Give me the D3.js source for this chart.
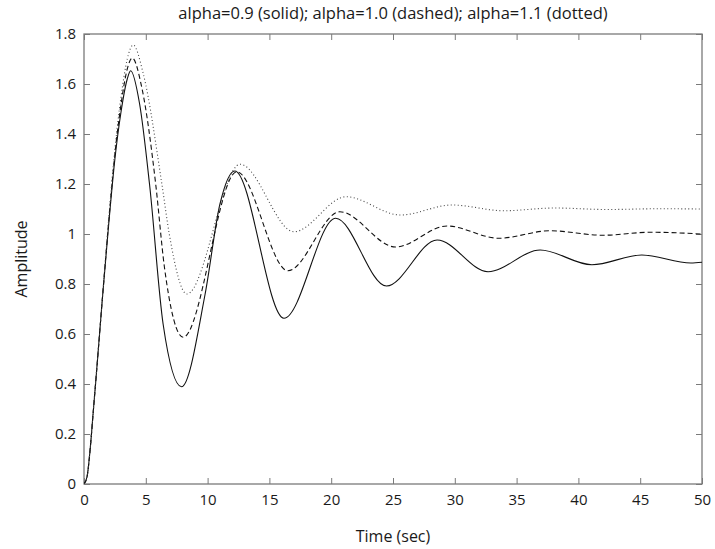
<!DOCTYPE html>
<html>
<head>
<meta charset="utf-8">
<script src="https://cdn.jsdelivr.net/npm/d3@7"></script>
<style>
  html, body { margin: 0; padding: 0; background: #fff; }
  svg { display: block; }
  text { font-family: "Open Sans", Lato, sans-serif; fill: #1a1a1a; }
</style>
</head>
<body>
<svg id="chart" width="715" height="549"></svg>
<script>
// ---- data ----
const xTicks = [0, 5, 10, 15, 20, 25, 30, 35, 40, 45, 50];
const yTicks = [0, 0.2, 0.4, 0.6, 0.8, 1, 1.2, 1.4, 1.6, 1.8];

// alpha = 0.9 (solid)
const timeSolid = [0, 0.25, 0.5, 0.75, 1.0, 1.5, 2.0, 2.5, 3.0, 3.5, 3.77, 4.5, 5.3, 6.4, 7.89, 9.8, 11.0, 12.2, 16.18, 20.36, 24.47, 28.57, 32.69, 36.91, 41.09, 45.13, 49.1, 50];
const ampSolid  = [0, 0.03, 0.14, 0.29, 0.44, 0.75, 1.04, 1.30, 1.49, 1.62, 1.653, 1.52, 1.20, 0.64, 0.389, 0.76, 1.12, 1.252, 0.663, 1.063, 0.792, 0.976, 0.849, 0.936, 0.877, 0.916, 0.884, 0.887];

// alpha = 1.0 (dashed)
const timeDashed = [0, 0.25, 0.5, 0.75, 1.0, 1.5, 2.0, 2.5, 3.0, 3.5, 3.9, 4.7, 5.8, 6.5, 8.02, 12.36, 16.5, 20.7, 25.2, 29.37, 33.55, 37.7, 42.0, 45.8, 50];
const ampDashed  = [0, 0.03, 0.14, 0.29, 0.44, 0.75, 1.05, 1.32, 1.52, 1.66, 1.704, 1.58, 1.20, 0.87, 0.587, 1.249, 0.853, 1.089, 0.948, 1.032, 0.983, 1.013, 0.995, 1.007, 1.0];

// alpha = 1.1 (dotted)
const timeDotted = [0, 0.25, 0.5, 0.75, 1.0, 1.5, 2.0, 2.5, 3.0, 3.5, 3.98, 4.8, 6.3, 6.9, 8.32, 12.63, 16.99, 21.2, 25.6, 29.78, 33.95, 38.1, 42.3, 46.5, 50];
const ampDotted  = [0, 0.03, 0.14, 0.29, 0.44, 0.75, 1.06, 1.34, 1.55, 1.70, 1.756, 1.64, 1.20, 1.00, 0.76, 1.279, 1.009, 1.149, 1.076, 1.116, 1.093, 1.104, 1.098, 1.101, 1.100];

const titleText = "alpha=0.9 (solid); alpha=1.0 (dashed); alpha=1.1 (dotted)";
const xLabel = "Time (sec)";
const yLabel = "Amplitude";

// ---- layout ----
const svg = d3.select("#chart");
const pLeft = 84, pRight = 702, pTop = 34, pBottom = 484;
const x = d3.scaleLinear().domain([0, 50]).range([pLeft, pRight]);
const y = d3.scaleLinear().domain([0, 1.8]).range([pBottom, pTop]);
const axisColor = "#7a7a7a";
const tickLen = 6;

svg.append("defs").append("clipPath").attr("id", "clip")
  .append("rect").attr("x", pLeft).attr("y", pTop).attr("width", pRight - pLeft).attr("height", pBottom - pTop);

// axes (ticks inside, on all four sides)
function styleAxis(g) {
  g.select(".domain").remove();
  g.selectAll(".tick line").attr("stroke", axisColor);
  g.selectAll(".tick text").attr("fill", "#1a1a1a").style("font-size", "15px");
}
svg.append("g").attr("transform", `translate(0,${pBottom})`)
  .call(d3.axisBottom(x).tickValues(xTicks).tickSize(-tickLen).tickPadding(10).tickFormat(d3.format("~g")))
  .call(styleAxis);
svg.append("g").attr("transform", `translate(0,${pTop})`)
  .call(d3.axisTop(x).tickValues(xTicks).tickSize(-tickLen).tickFormat(""))
  .call(styleAxis);
svg.append("g").attr("transform", `translate(${pLeft},0)`)
  .call(d3.axisLeft(y).tickValues(yTicks).tickSize(-tickLen).tickPadding(8).tickFormat(d3.format("~g")))
  .call(styleAxis);
svg.append("g").attr("transform", `translate(${pRight},0)`)
  .call(d3.axisRight(y).tickValues(yTicks).tickSize(-tickLen).tickFormat(""))
  .call(styleAxis);

svg.append("rect").attr("x", pLeft).attr("y", pTop)
  .attr("width", pRight - pLeft).attr("height", pBottom - pTop)
  .attr("fill", "none").attr("stroke", axisColor).attr("stroke-width", 1.3);

// lines
const line = d3.line().x(d => x(d[0])).y(d => y(d[1])).curve(d3.curveMonotoneX);
const series = [
  { t: timeSolid, v: ampSolid, dash: null, color: "#111" },
  { t: timeDashed, v: ampDashed, dash: "5,3", color: "#111" },
  { t: timeDotted, v: ampDotted, dash: "1,2.5", color: "#444" }
];
const gLines = svg.append("g").attr("clip-path", "url(#clip)");
series.forEach(s => {
  gLines.append("path")
    .datum(s.t.map((t, i) => [t, s.v[i]]))
    .attr("d", line)
    .attr("fill", "none")
    .attr("stroke", s.color)
    .attr("stroke-width", 1.1)
    .attr("stroke-dasharray", s.dash);
});

// texts
svg.append("text").attr("x", (pLeft + pRight) / 2).attr("y", 19)
  .attr("text-anchor", "middle").style("font-size", "16.5px").text(titleText);
svg.append("text").attr("x", (pLeft + pRight) / 2).attr("y", 542)
  .attr("text-anchor", "middle").style("font-size", "16px").text(xLabel);
svg.append("text").attr("transform", `translate(27,${(pTop + pBottom) / 2}) rotate(-90)`)
  .attr("text-anchor", "middle").style("font-size", "16px").text(yLabel);
</script>
</body>
</html>
